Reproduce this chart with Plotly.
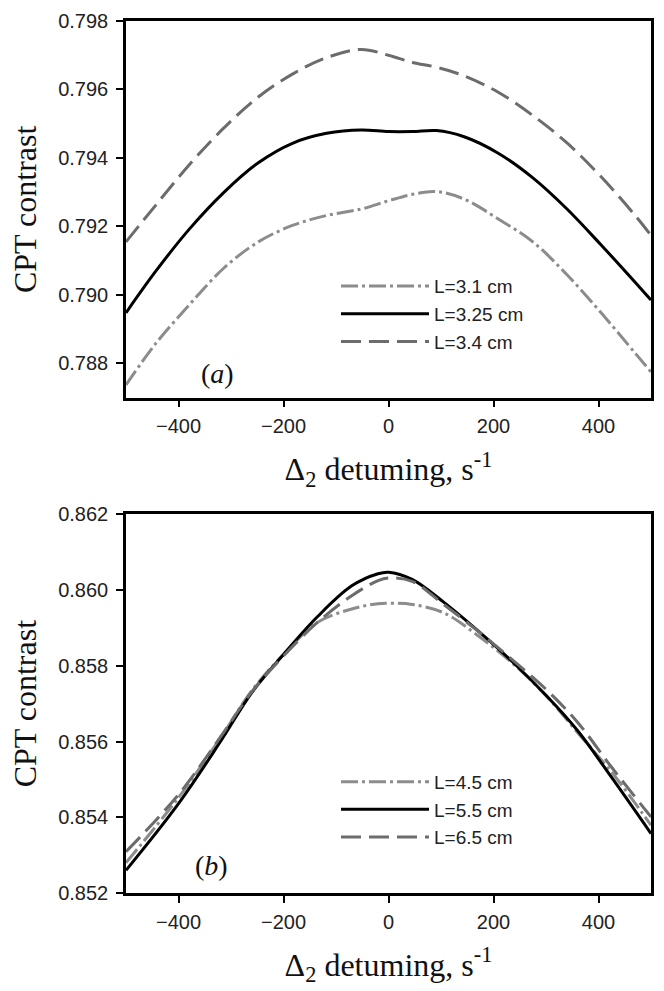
import plotly.graph_objects as go

# ---------------- data ----------------
# Panel (a)
x_a = [-500, -444, -379, -314, -248, -183, -118, -52, 0, 46, 91, 144, 209, 275, 340, 405, 471, 500]
L31_a = [0.78737, 0.78857, 0.78972, 0.79078, 0.79155, 0.79203, 0.79232, 0.79251, 0.79275, 0.79294,
         0.79302, 0.79280, 0.79222, 0.79155, 0.79059, 0.78948, 0.78828, 0.78775]
L325_a = [0.78948, 0.79068, 0.79193, 0.79299, 0.79386, 0.79443, 0.79472, 0.79482, 0.79477, 0.79477,
          0.79480, 0.79462, 0.79414, 0.79342, 0.79251, 0.79146, 0.79035, 0.78985]
L34_a = [0.79155, 0.79261, 0.79381, 0.79487, 0.79578, 0.79645, 0.79693, 0.79717, 0.79700, 0.79679,
         0.79665, 0.79640, 0.79592, 0.79524, 0.79444, 0.79345, 0.79230, 0.79174]
names_a = ["L=3.1 cm", "L=3.25 cm", "L=3.4 cm"]

# Panel (b)
x_b = [-500, -400, -320, -260, -200, -135, -70, -20, 0, 45, 105, 170, 235, 300, 360, 425, 500]
L45_b = [0.85280, 0.85452, 0.85610, 0.85735, 0.85830, 0.85915, 0.85950, 0.85964, 0.85965, 0.85962,
         0.85940, 0.85880, 0.85808, 0.85721, 0.85624, 0.85519, 0.85379]
L55_b = [0.85260, 0.85436, 0.85600, 0.85730, 0.85830, 0.85930, 0.86011, 0.86043, 0.86047, 0.86028,
         0.85968, 0.85893, 0.85812, 0.85722, 0.85629, 0.85505, 0.85357]
L65_b = [0.85309, 0.85460, 0.85612, 0.85732, 0.85826, 0.85915, 0.85985, 0.86025, 0.86032, 0.86023,
         0.85962, 0.85892, 0.85817, 0.85738, 0.85651, 0.85532, 0.85401]
names_b = ["L=4.5 cm", "L=5.5 cm", "L=6.5 cm"]

x_ticks = [-400, -200, 0, 200, 400]
y_ticks_a = [0.788, 0.790, 0.792, 0.794, 0.796, 0.798]
y_ticks_b = [0.852, 0.854, 0.856, 0.858, 0.860, 0.862]

# ---------------- styles ----------------
DASHDOT = dict(color="#8c8c8c", width=3, dash="17px,4px,3px,4px")
SOLID = dict(color="#000000", width=3, dash="solid")
DASH = dict(color="#6c6c6c", width=3, dash="20px,8px")
styles = [DASHDOT, SOLID, DASH]

SANS = "Liberation Sans, Arial, sans-serif"
SERIF = "Liberation Serif, Times New Roman, serif"

fig = go.Figure()
for ys, name, st in zip([L31_a, L325_a, L34_a], names_a, styles):
    fig.add_trace(go.Scatter(x=x_a, y=ys, name=name, mode="lines",
                             line=dict(shape="spline", smoothing=1.0, **st),
                             xaxis="x", yaxis="y", legend="legend"))
for ys, name, st in zip([L45_b, L55_b, L65_b], names_b, styles):
    fig.add_trace(go.Scatter(x=x_b, y=ys, name=name, mode="lines",
                             line=dict(shape="spline", smoothing=1.0, **st),
                             xaxis="x2", yaxis="y2", legend="legend2"))

xtitle = "Δ<sub>2</sub> detuming, s<sup>-1</sup>"
axis_common = dict(showline=True, linecolor="black", linewidth=2.5, mirror=True,
                   ticks="outside", ticklen=7, tickwidth=2, tickcolor="black",
                   showgrid=False, zeroline=False,
                   tickfont=dict(family=SANS, size=20, color="#222"))

xa = dict(axis_common, range=[-500, 500], tickvals=x_ticks, ticklabelstandoff=2,
          title=dict(text=xtitle, font=dict(family=SERIF, size=32, color="#111"), standoff=22))
ya = dict(axis_common, tickformat=".3f", ticklabelstandoff=4,
          title=dict(text="CPT contrast", font=dict(family=SERIF, size=32, color="#111"), standoff=12))

legend_common = dict(bgcolor="rgba(0,0,0,0)", borderwidth=0, itemwidth=88,
                     font=dict(family=SANS, size=19, color="#222"),
                     xanchor="left", yanchor="top", tracegroupgap=0)

fig.update_layout(
    width=664, height=991,
    margin=dict(l=126, r=10, t=18, b=98),
    paper_bgcolor="white", plot_bgcolor="white",
    xaxis=dict(xa, domain=[0, 1], anchor="y"),
    yaxis=dict(ya, domain=[0.568, 1.0], range=[0.787, 0.798], tickvals=y_ticks_a, anchor="x"),
    xaxis2=dict(xa, domain=[0, 1], anchor="y2"),
    yaxis2=dict(ya, domain=[0.0, 0.4343], range=[0.852, 0.862], tickvals=y_ticks_b, anchor="x2"),
    legend=dict(legend_common, x=0.40, y=0.7177),
    legend2=dict(legend_common, x=0.40, y=0.1493),
    showlegend=True,
    annotations=[
        dict(text="(<i>a</i>)", xref="x domain", yref="y domain", x=0.174, y=0.0635,
             xanchor="center", yanchor="middle",
             showarrow=False, font=dict(family=SERIF, size=28, color="#111")),
        dict(text="(<i>b</i>)", xref="x2 domain", yref="y2 domain", x=0.163, y=0.0737,
             xanchor="center", yanchor="middle",
             showarrow=False, font=dict(family=SERIF, size=28, color="#111")),
    ],
)

# remove the default 8px page margin so the figure fills the 664x991 window exactly
fig.write_html("out.html", config={"displayModeBar": False},
               post_script="document.body.style.margin='0';document.body.style.overflow='hidden';")
